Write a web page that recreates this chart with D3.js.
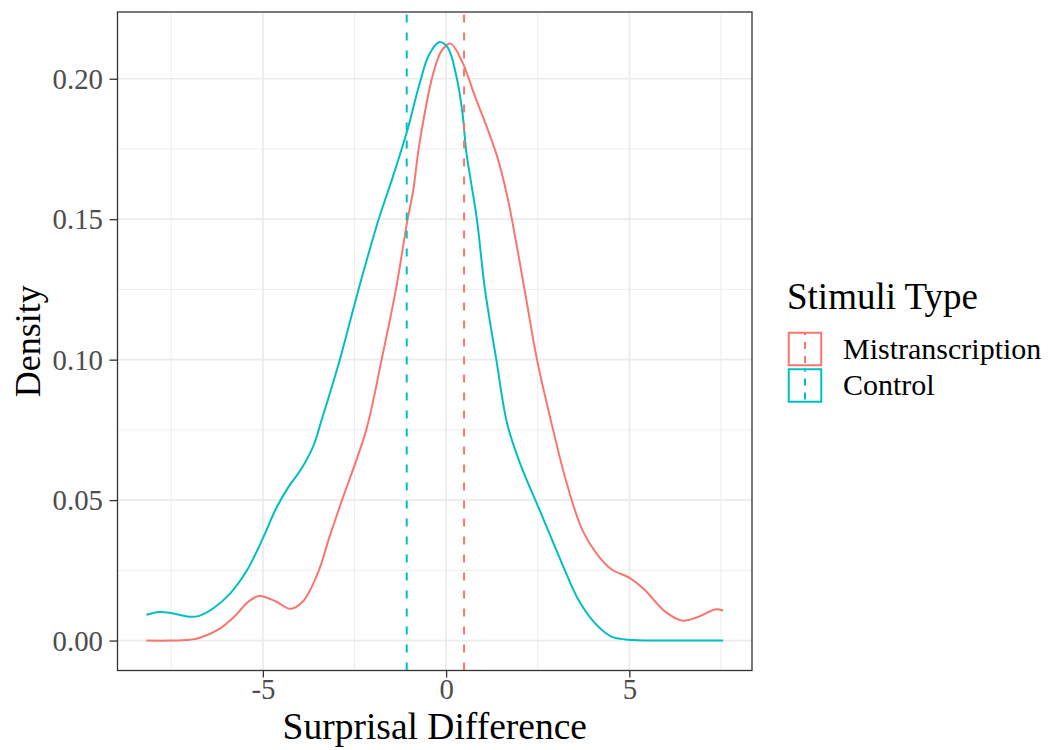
<!DOCTYPE html>
<html>
<head>
<meta charset="utf-8">
<script src="https://cdn.jsdelivr.net/npm/d3@7"></script>
<style>
  html, body { margin: 0; padding: 0; background: #ffffff; }
  svg { display: block; font-family: "Liberation Serif", "Times New Roman", serif; }
</style>
</head>
<body>
<svg id="chart" width="1049" height="750"></svg>
<script>
// Kernel density estimates of surprisal difference, per stimuli type
const mistranscriptionX = [-8.18, -7.50, -7.00, -6.74, -6.23, -5.78, -5.40, -5.10, -4.64, -4.25, -3.91, -3.50, -3.18, -2.84, -2.18, -1.76, -1.37, -1.05, -0.90, -0.75, -0.58, -0.35, -0.12, 0.12, 0.44, 0.78, 1.12, 1.40, 1.68, 2.14, 2.48, 2.92, 3.27, 3.72, 4.17, 4.51, 5.02, 5.42, 5.98, 6.44, 6.89, 7.34, 7.56];
const mistranscriptionDensity = [0.0000, 0.0000, 0.0003, 0.0009, 0.0038, 0.0085, 0.0138, 0.0159, 0.0139, 0.0113, 0.0139, 0.0240, 0.0370, 0.0500, 0.0750, 0.1000, 0.1250, 0.1500, 0.1600, 0.1750, 0.1880, 0.2020, 0.2100, 0.2125, 0.2060, 0.1940, 0.1825, 0.1720, 0.1575, 0.1250, 0.1000, 0.0750, 0.0570, 0.0393, 0.0299, 0.0254, 0.0222, 0.0180, 0.0103, 0.0071, 0.0085, 0.0111, 0.0107];

const controlX = [-8.18, -7.82, -7.48, -7.02, -6.74, -6.35, -5.89, -5.43, -4.98, -4.64, -4.30, -3.97, -3.63, -3.40, -2.90, -2.39, -1.84, -1.48, -1.05, -0.75, -0.46, -0.18, 0.05, 0.27, 0.44, 0.55, 0.67, 0.84, 1.06, 1.37, 1.67, 2.02, 2.59, 3.16, 3.61, 4.06, 4.51, 5.08, 5.50, 6.00, 7.56];
const controlDensity = [0.0092, 0.0102, 0.0097, 0.0085, 0.0088, 0.0115, 0.0168, 0.0251, 0.0370, 0.0470, 0.0547, 0.0607, 0.0690, 0.0784, 0.1000, 0.1250, 0.1500, 0.1640, 0.1820, 0.1970, 0.2087, 0.2131, 0.2110, 0.2015, 0.1885, 0.1740, 0.1640, 0.1500, 0.1250, 0.1000, 0.0770, 0.0630, 0.0453, 0.0275, 0.0145, 0.0062, 0.0014, 0.0002, 0.0000, 0.0000, 0.0000];

// Group means (dashed reference lines)
const groupNames = ["Mistranscription", "Control"];
const groupMeans = [0.49, -1.075];
const groupColors = ["#F8766D", "#00BFC4"];

const xTicks = [-5, 0, 5];
const xTickLabels = ["-5", "0", "5"];
const xMinorTicks = [-7.5, -2.5, 2.5, 7.5];
const yTicks = [0.00, 0.05, 0.10, 0.15, 0.20];
const yTickLabels = ["0.00", "0.05", "0.10", "0.15", "0.20"];
const yMinorTicks = [0.025, 0.075, 0.125, 0.175];

const svg = d3.select("#chart");
const panel = { left: 117.5, right: 752, top: 12, bottom: 670.5 };

// 5% expansion on both axes
const allX = mistranscriptionX.concat(controlX);
const allY = mistranscriptionDensity.concat(controlDensity);
const xMin = d3.min(allX), xMax = d3.max(allX);
const yMin = 0, yMax = d3.max(allY);
const xPad = (xMax - xMin) * 0.05, yPad = (yMax - yMin) * 0.05;

const x = d3.scaleLinear().domain([xMin - xPad, xMax + xPad]).range([panel.left, panel.right]);
const y = d3.scaleLinear().domain([yMin - yPad, yMax + yPad]).range([panel.bottom, panel.top]);

svg.append("rect").attr("width", 1049).attr("height", 750).attr("fill", "#ffffff");

// Grid
const grid = svg.append("g");
grid.selectAll(".vminor").data(xMinorTicks).join("line")
  .attr("x1", d => x(d)).attr("x2", d => x(d))
  .attr("y1", panel.top).attr("y2", panel.bottom)
  .attr("stroke", "#EBEBEB").attr("stroke-width", 0.9);
grid.selectAll(".hminor").data(yMinorTicks).join("line")
  .attr("y1", d => y(d)).attr("y2", d => y(d))
  .attr("x1", panel.left).attr("x2", panel.right)
  .attr("stroke", "#EBEBEB").attr("stroke-width", 0.9);
grid.selectAll(".vmajor").data(xTicks).join("line")
  .attr("x1", d => x(d)).attr("x2", d => x(d))
  .attr("y1", panel.top).attr("y2", panel.bottom)
  .attr("stroke", "#EBEBEB").attr("stroke-width", 1.7);
grid.selectAll(".hmajor").data(yTicks).join("line")
  .attr("y1", d => y(d)).attr("y2", d => y(d))
  .attr("x1", panel.left).attr("x2", panel.right)
  .attr("stroke", "#EBEBEB").attr("stroke-width", 1.7);

// Density curves
const series = [
  { name: groupNames[0], color: groupColors[0], pts: mistranscriptionX.map((v, i) => [v, mistranscriptionDensity[i]]) },
  { name: groupNames[1], color: groupColors[1], pts: controlX.map((v, i) => [v, controlDensity[i]]) }
];
const line = d3.line().x(d => x(d[0])).y(d => y(d[1])).curve(d3.curveCatmullRom.alpha(0.5));
svg.append("g").selectAll("path").data(series).join("path")
  .attr("d", d => line(d.pts))
  .attr("fill", "none")
  .attr("stroke", d => d.color)
  .attr("stroke-width", 2);

// Mean lines, drawn from the bottom of the panel upward
svg.append("g").selectAll("line").data(groupMeans).join("line")
  .attr("x1", d => x(d)).attr("x2", d => x(d))
  .attr("y1", panel.bottom).attr("y2", panel.top)
  .attr("stroke", (d, i) => groupColors[i])
  .attr("stroke-width", 2)
  .attr("stroke-dasharray", "8,10");

// Panel border
svg.append("rect")
  .attr("x", panel.left).attr("y", panel.top)
  .attr("width", panel.right - panel.left).attr("height", panel.bottom - panel.top)
  .attr("fill", "none").attr("stroke", "#333333").attr("stroke-width", 1.3);

// Axes
const tickColor = "#333333", labelColor = "#4D4D4D";
const xAxis = svg.append("g").attr("transform", `translate(0,${panel.bottom})`)
  .call(d3.axisBottom(x).tickValues(xTicks).tickSize(7).tickFormat((d, i) => xTickLabels[i]));
xAxis.select(".domain").remove();
xAxis.selectAll(".tick line").attr("stroke", tickColor).attr("stroke-width", 1.3);
xAxis.selectAll(".tick text").attr("fill", labelColor).attr("font-size", 28.8)
  .attr("font-family", "Liberation Serif").attr("y", 28.5).attr("dy", 0);

const yAxis = svg.append("g").attr("transform", `translate(${panel.left},0)`)
  .call(d3.axisLeft(y).tickValues(yTicks).tickSize(8).tickFormat((d, i) => yTickLabels[i]));
yAxis.select(".domain").remove();
yAxis.selectAll(".tick line").attr("stroke", tickColor).attr("stroke-width", 1.3);
yAxis.selectAll(".tick text").attr("fill", labelColor).attr("font-size", 28.8)
  .attr("font-family", "Liberation Serif").attr("x", -14.5).attr("dy", "0.33em");

// Axis titles
svg.append("text")
  .attr("x", (panel.left + panel.right) / 2).attr("y", 739)
  .attr("text-anchor", "middle").attr("font-size", 37.5).attr("fill", "#000")
  .text("Surprisal Difference");
svg.append("text")
  .attr("transform", `translate(39.5,${(panel.top + panel.bottom) / 2}) rotate(-90)`)
  .attr("text-anchor", "middle").attr("font-size", 36).attr("fill", "#000")
  .text("Density");

// Legend
const legend = svg.append("g").attr("transform", "translate(788,0)");
legend.append("text").attr("x", -1).attr("y", 309)
  .attr("font-size", 37).attr("fill", "#000").text("Stimuli Type");
const keySize = 34, keyTop = 332;
const keys = legend.selectAll(".key").data(groupNames).join("g")
  .attr("transform", (d, i) => `translate(0,${keyTop + i * (keySize + 2.5)})`);
keys.append("rect")
  .attr("x", 0.75).attr("y", 0.75).attr("width", keySize - 1.5).attr("height", keySize - 1.5)
  .attr("fill", "#ffffff").attr("stroke", (d, i) => groupColors[i]).attr("stroke-width", 2);
keys.append("line")
  .attr("x1", keySize / 2).attr("x2", keySize / 2).attr("y1", 0).attr("y2", keySize)
  .attr("stroke", (d, i) => groupColors[i]).attr("stroke-width", 2)
  .attr("stroke-dasharray", "7,7").attr("stroke-dashoffset", 4);
keys.append("text")
  .attr("x", 55).attr("y", keySize / 2).attr("dy", "0.33em")
  .attr("font-size", 30).attr("fill", "#000").text(d => d);
</script>
</body>
</html>
